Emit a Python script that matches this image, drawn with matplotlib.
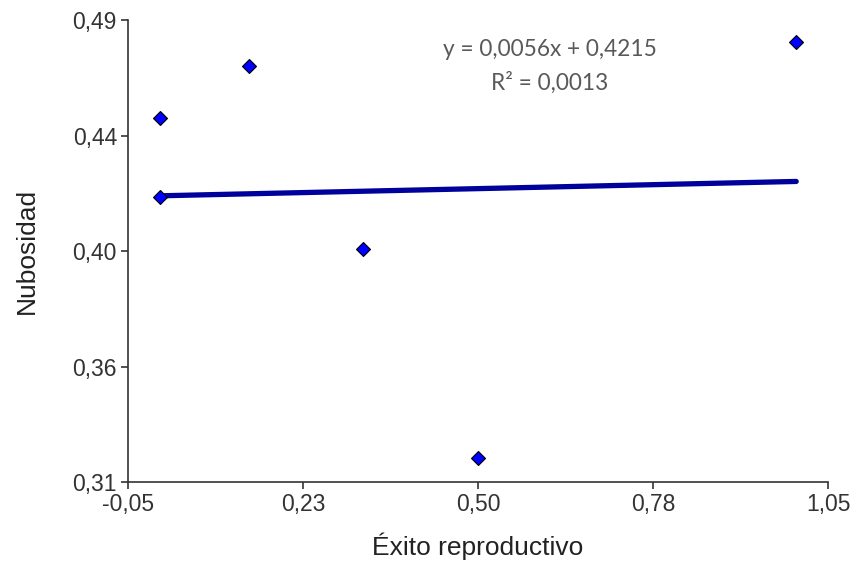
import matplotlib
matplotlib.use("Agg")
import matplotlib.pyplot as plt  # noqa: E402
import numpy as np  # noqa: E402

# data
exito = [0.0, 0.0, 0.14, 0.32, 0.50, 1.00]
nubosidad = [0.4518, 0.4210, 0.4720, 0.4008, 0.3194, 0.4814]

x_ticks = [-0.05, 0.225, 0.50, 0.775, 1.05]
x_tick_labels = ["-0,05", "0,23", "0,50", "0,78", "1,05"]
y_ticks = [0.31, 0.355, 0.40, 0.445, 0.49]
y_tick_labels = ["0,31", "0,36", "0,40", "0,44", "0,49"]

# trend line shown in the chart
slope = 0.0056
intercept = 0.4215
r2 = 0.0013

AXIS_COLOR = "#333333"


def main():
    fig = plt.figure(figsize=(8.58, 5.64), dpi=100)
    ax = fig.add_axes([128 / 858, 82 / 564, 700 / 858, 462 / 564])

    xs = np.array([min(exito), max(exito)])
    ax.plot(xs, slope * xs + intercept, color="#00009C", lw=3.8,
            solid_capstyle="round", zorder=2)
    ax.plot(exito, nubosidad, ls="none", marker="D", ms=7.5,
            mfc="#0000FF", mec="#000000", mew=0.8, zorder=3)

    ax.set_xlim(-0.05, 1.05)
    ax.set_ylim(0.31, 0.49)
    ax.set_xticks(x_ticks, x_tick_labels)
    ax.set_yticks(y_ticks, y_tick_labels)

    for side in ("top", "right"):
        ax.spines[side].set_visible(False)
    for side in ("left", "bottom"):
        ax.spines[side].set_color(AXIS_COLOR)
        ax.spines[side].set_linewidth(1.2)

    ax.tick_params(direction="out", length=5, width=1.2, color=AXIS_COLOR,
                   labelsize=16.5, labelcolor="#333333", pad=3)
    for lbl in ax.get_xticklabels() + ax.get_yticklabels():
        lbl.set_family("Liberation Sans")

    ax.set_xlabel("Éxito reproductivo", fontsize=19, family="Liberation Sans",
                  color="#222222", labelpad=12)
    ax.set_ylabel("Nubosidad", fontsize=19, family="Liberation Sans",
                  color="#222222", labelpad=24)

    eq = f"y = {slope:.4f}x + {intercept:.4f}".replace(".", ",")
    rr = f"R² = {r2:.4f}".replace(".", ",")
    ax.text(0.603, 0.937, eq, transform=ax.transAxes, ha="center", va="center",
            fontsize=16.3, family="Lato", color="#595959")
    ax.text(0.603, 0.864, rr, transform=ax.transAxes, ha="center", va="center",
            fontsize=16.3, family="Lato", color="#595959")

    fig.savefig("out.png", dpi=100)


if __name__ == "__main__":
    main()
